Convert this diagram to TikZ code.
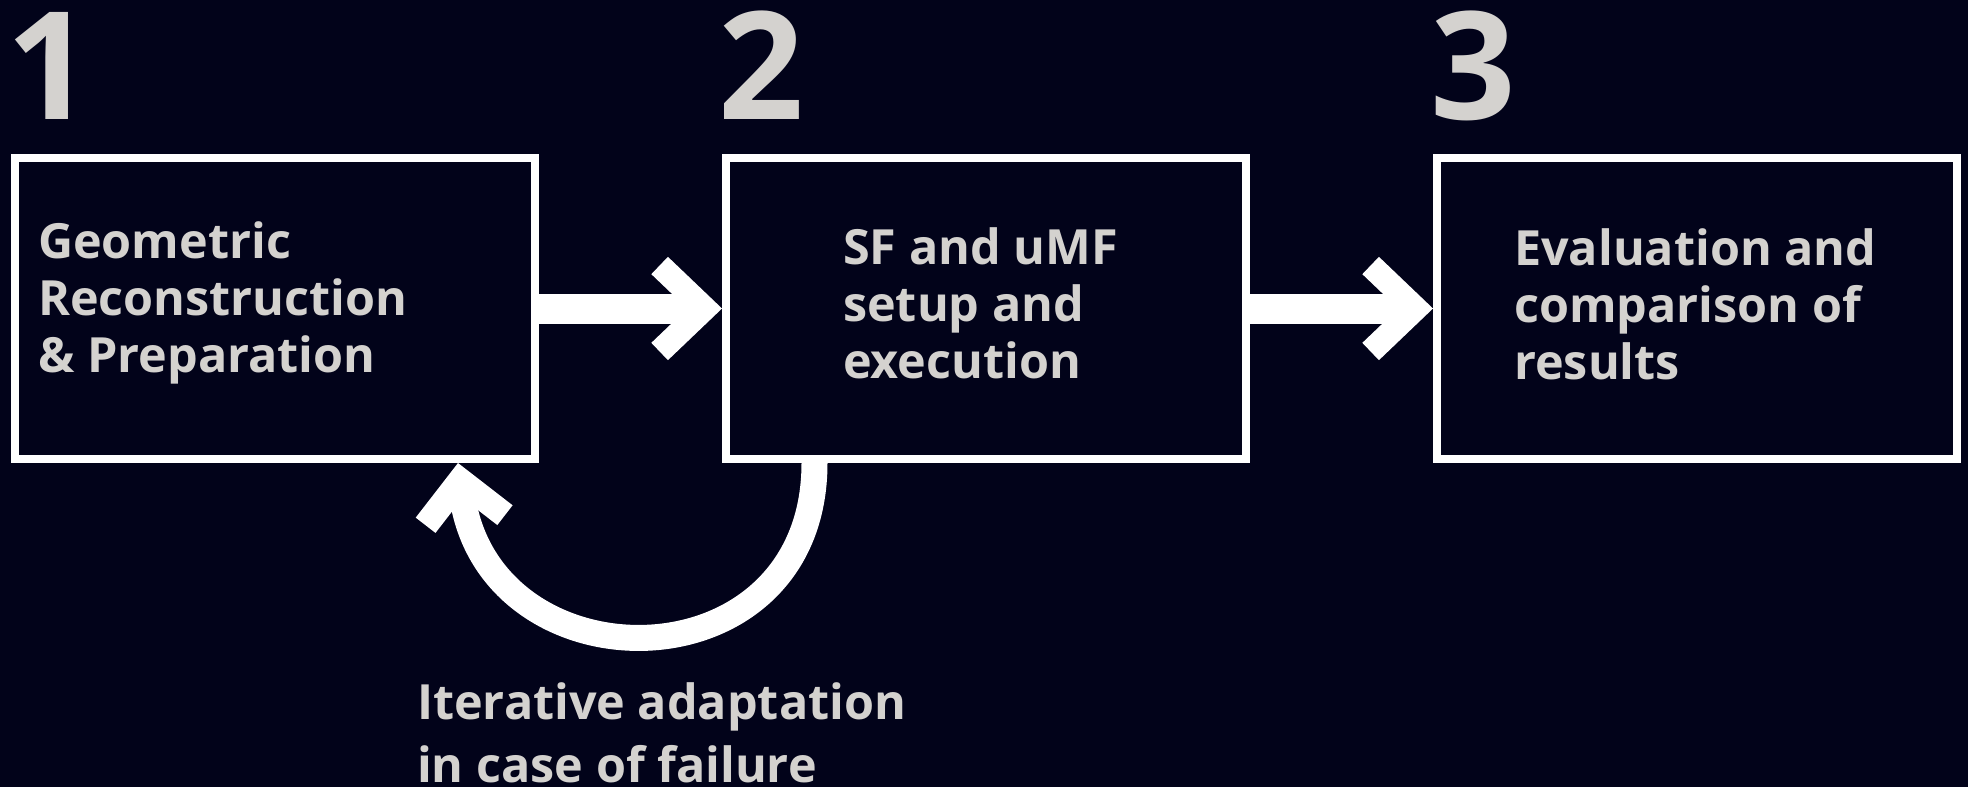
\documentclass[tikz,border=0pt]{standalone}
\usepackage{fontspec}
\setmainfont{Open Sans}
\usepackage{xcolor}
\usetikzlibrary{positioning,arrows.meta,calc}
\definecolor{bgnavy}{HTML}{02031A}
\definecolor{txtgray}{HTML}{D4D2CF}
\tikzset{
  stage/.style={rectangle,draw=white,line width=8pt,minimum width=520pt,minimum height=301pt,inner sep=0pt},
  stagetxt/.style={anchor=base west,align=left,inner sep=0pt,text=txtgray,font=\bfseries\fontsize{48.5}{57}\selectfont},
  stagenum/.style={anchor=base west,inner sep=0pt,text=txtgray,font=\bfseries\fontsize{150}{150}\selectfont},
  flow/.style={-{Straight Barb[length=45pt,width=86pt,line width=24pt]},line width=30pt,draw=white},
  retry/.style={-{Straight Barb[length=40pt,width=80pt,line width=25pt]},line width=26pt,draw=white},
  lbl/.style={anchor=base west,align=left,inner sep=0pt,text=txtgray,font=\bfseries\fontsize{48.5}{63}\selectfont},
}
\begin{document}
\begin{tikzpicture}[x=1pt,y=-1pt,node distance=183pt]
  \fill[bgnavy] (0,0) rectangle (1968,787);
  \useasboundingbox (0,0) rectangle (1968,787);
  % the three stages
  \node[stage] (b1) at (275,308.5) {};
  \node[stage,right=of b1] (b2) {};
  \node[stage,right=of b2] (b3) {};
  \node[stagenum] (n1) at ([xshift=-5pt,yshift=35pt]b1.north west) {1};
  \node[stagenum] (n2) at ([xshift=-3.5pt,yshift=35pt]b2.north west) {2};
  \node[stagenum] (n3) at ([xshift=-3pt,yshift=35pt]b3.north west) {3};
  \node[stagetxt] (t1) at ([xshift=27pt,yshift=-218pt]b1.north west) {Geometric\\Reconstruction\\\& Preparation};
  \node[stagetxt] (t2) at ([xshift=121pt,yshift=-224pt]b2.north west) {SF and uMF\\setup and\\execution};
  \node[stagetxt] (t3) at ([xshift=81pt,yshift=-225pt]b3.north west) {Evaluation and\\comparison of\\results};
  % arrows
  \draw[flow] (b1) -- (b2); \draw[flow] (b2) -- (b3);
  \draw[retry] ([xshift=92.5pt]b2.south west) .. controls +(0,228) and +(29,228) .. ([xshift=-81pt]b1.south east);
  \node[lbl] (fail) at ([xshift=-122pt,yshift=-319pt]b1.south east) {Iterative adaptation\\in case of failure};
\end{tikzpicture}
\end{document}
